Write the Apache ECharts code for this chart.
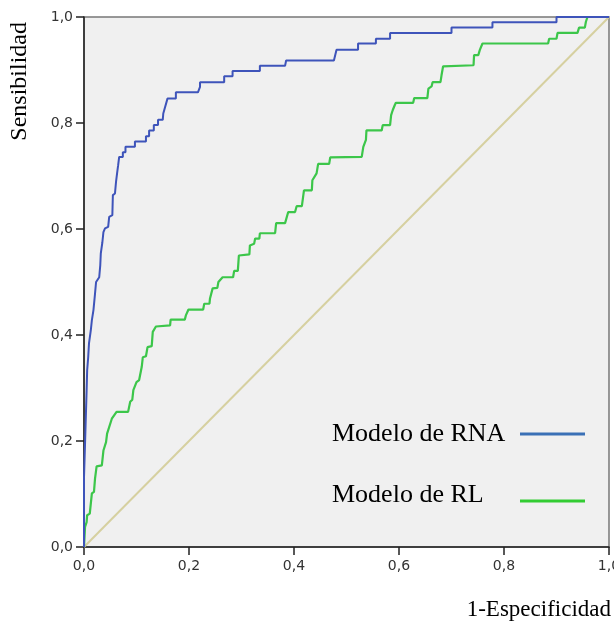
<!DOCTYPE html>
<html>
<head>
<meta charset="utf-8">
<script src="https://cdn.jsdelivr.net/npm/echarts@6/dist/echarts.min.js"></script>
<style>
html,body{margin:0;padding:0;background:#fff;}
#chart{width:614px;height:621px;}
</style>
</head>
<body>
<div id="chart"></div>
<script>
// ROC curve of the neural-network model (Modelo de RNA)
var rnaFpr = [0, 0, 0.002, 0.002, 0.005, 0.005, 0.006, 0.008, 0.0095, 0.013, 0.015, 0.018, 0.021, 0.023, 0.029, 0.031, 0.032, 0.035, 0.037, 0.040, 0.046, 0.048, 0.054, 0.055, 0.059, 0.061, 0.063, 0.065, 0.067, 0.074, 0.074, 0.079, 0.079, 0.097, 0.097, 0.118, 0.118, 0.124, 0.124, 0.133, 0.133, 0.141, 0.141, 0.150, 0.151, 0.159, 0.175, 0.175, 0.217, 0.221, 0.221, 0.267, 0.267, 0.283, 0.283, 0.335, 0.335, 0.383, 0.385, 0.476, 0.481, 0.522, 0.522, 0.556, 0.556, 0.583, 0.583, 0.700, 0.700, 0.778, 0.778, 0.900, 0.900, 1];
var rnaTpr = [0, 0.131, 0.131, 0.196, 0.196, 0.296, 0.333, 0.358, 0.384, 0.409, 0.428, 0.447, 0.478, 0.500, 0.509, 0.532, 0.554, 0.575, 0.594, 0.601, 0.604, 0.623, 0.626, 0.664, 0.667, 0.689, 0.705, 0.720, 0.736, 0.736, 0.745, 0.745, 0.755, 0.755, 0.765, 0.765, 0.775, 0.775, 0.786, 0.786, 0.796, 0.796, 0.806, 0.806, 0.818, 0.846, 0.846, 0.858, 0.858, 0.868, 0.877, 0.877, 0.888, 0.888, 0.898, 0.898, 0.908, 0.908, 0.918, 0.918, 0.938, 0.938, 0.950, 0.950, 0.959, 0.959, 0.970, 0.970, 0.980, 0.980, 0.990, 0.990, 1, 1];
// ROC curve of the logistic-regression model (Modelo de RL)
var rlFpr = [0, 0.001, 0.002, 0.005, 0.006, 0.011, 0.015, 0.019, 0.021, 0.024, 0.034, 0.037, 0.042, 0.044, 0.053, 0.062, 0.084, 0.088, 0.092, 0.094, 0.100, 0.105, 0.110, 0.112, 0.118, 0.121, 0.129, 0.131, 0.137, 0.139, 0.164, 0.165, 0.192, 0.194, 0.199, 0.227, 0.229, 0.239, 0.240, 0.245, 0.254, 0.256, 0.264, 0.284, 0.286, 0.293, 0.295, 0.315, 0.316, 0.324, 0.326, 0.334, 0.335, 0.364, 0.366, 0.383, 0.389, 0.402, 0.405, 0.415, 0.419, 0.434, 0.435, 0.443, 0.446, 0.467, 0.469, 0.529, 0.532, 0.537, 0.538, 0.567, 0.569, 0.583, 0.585, 0.588, 0.592, 0.594, 0.627, 0.629, 0.654, 0.656, 0.662, 0.664, 0.679, 0.681, 0.684, 0.742, 0.743, 0.751, 0.754, 0.759, 0.884, 0.886, 0.900, 0.902, 0.940, 0.943, 0.954, 0.956, 0.959, 1];
var rlTpr = [0, 0.003, 0.038, 0.047, 0.060, 0.063, 0.101, 0.104, 0.129, 0.152, 0.154, 0.182, 0.198, 0.214, 0.242, 0.255, 0.255, 0.274, 0.278, 0.296, 0.311, 0.315, 0.340, 0.358, 0.360, 0.377, 0.379, 0.406, 0.416, 0.418, 0.418, 0.429, 0.429, 0.437, 0.448, 0.448, 0.459, 0.459, 0.469, 0.488, 0.489, 0.500, 0.509, 0.509, 0.521, 0.521, 0.550, 0.552, 0.569, 0.572, 0.582, 0.582, 0.592, 0.592, 0.611, 0.611, 0.632, 0.632, 0.643, 0.643, 0.673, 0.673, 0.692, 0.705, 0.723, 0.723, 0.735, 0.736, 0.755, 0.768, 0.786, 0.786, 0.796, 0.796, 0.815, 0.824, 0.834, 0.838, 0.838, 0.847, 0.847, 0.865, 0.869, 0.877, 0.877, 0.890, 0.907, 0.909, 0.928, 0.928, 0.938, 0.950, 0.950, 0.959, 0.959, 0.970, 0.970, 0.980, 0.980, 0.991, 1, 1];
// chance diagonal
var refFpr = [0, 1];
var refTpr = [0, 1];
var tickValues = [0, 0.2, 0.4, 0.6, 0.8, 1.0];
var seriesNames = ['Modelo de RNA', 'Modelo de RL'];
var yTitle = 'Sensibilidad';
var xTitle = '1-Especificidad';

function pairs(xs, ys) {
  var out = [];
  for (var i = 0; i < xs.length; i++) out.push([xs[i], ys[i]]);
  return out;
}
function fmt(v) { return v.toFixed(1).replace('.', ','); }

var chart = echarts.init(document.getElementById('chart'), null, {renderer: 'canvas'});
var tickFont = {fontFamily: 'DejaVu Sans', fontSize: 14, color: '#333'};
var serif = 'Liberation Serif';

function legendCfg(name, color, top, padBottom) {
  return {
    data: [{name: name, itemStyle: {color: color}}],
    right: 29, top: top, orient: 'vertical', align: 'right', icon: 'rect',
    itemWidth: 65, itemHeight: 3, padding: 0, selectedMode: false,
    formatter: function (n) { return '{a|' + n + '}'; },
    textStyle: {
      fontFamily: serif, fontSize: 26, color: '#000',
      rich: {a: {fontFamily: serif, fontSize: 26, color: '#000', width: 183, align: 'left', padding: [0, 0, padBottom, 0]}}
    }
  };
}

chart.setOption({
  animation: false,
  backgroundColor: '#ffffff',
  grid: {left: 84, top: 17, width: 525, height: 530, show: true, backgroundColor: '#f0f0f0', borderColor: '#777', borderWidth: 1.5, outerBoundsMode: 'none', containLabel: false},
  xAxis: {
    type: 'value', min: 0, max: 1, interval: 0.2,
    axisLine: {show: true, lineStyle: {color: '#222', width: 1.5}},
    axisTick: {show: true, inside: false, length: 8, lineStyle: {color: '#222', width: 1.5}},
    axisLabel: Object.assign({margin: 12, formatter: fmt, showMaxLabel: true}, tickFont),
    splitLine: {show: false}
  },
  yAxis: {
    type: 'value', min: 0, max: 1, interval: 0.2,
    axisLine: {show: true, lineStyle: {color: '#222', width: 1.5}},
    axisTick: {show: true, inside: false, length: 8, lineStyle: {color: '#222', width: 1.5}},
    axisLabel: Object.assign({margin: 11, formatter: fmt}, tickFont),
    splitLine: {show: false}
  },
  legend: [
    legendCfg(seriesNames[0], '#3a70b6', 421, 0),
    legendCfg(seriesNames[1], '#33cc33', 482, 12)
  ],
  graphic: [
    {type: 'text', left: 8, top: 22, style: {text: yTitle, font: '24px "Liberation Serif"', fill: '#000'}, rotation: Math.PI / 2},
    {type: 'text', right: 3, top: 598, style: {text: xTitle, font: '23px "Liberation Serif"', fill: '#000'}}
  ],
  series: [
    {
      type: 'line', name: 'ref', data: pairs(refFpr, refTpr), showSymbol: false, silent: true,
      lineStyle: {color: '#d6d0a0', width: 2}, z: 1
    },
    {
      type: 'line', name: seriesNames[1], data: pairs(rlFpr, rlTpr), showSymbol: false,
      lineStyle: {color: '#3cc64a', width: 2.2}, itemStyle: {color: '#3cc64a'}, z: 2
    },
    {
      type: 'line', name: seriesNames[0], data: pairs(rnaFpr, rnaTpr), showSymbol: false,
      lineStyle: {color: '#3e54ba', width: 2}, itemStyle: {color: '#3e54ba'}, z: 3
    }
  ]
});
</script>
</body>
</html>
